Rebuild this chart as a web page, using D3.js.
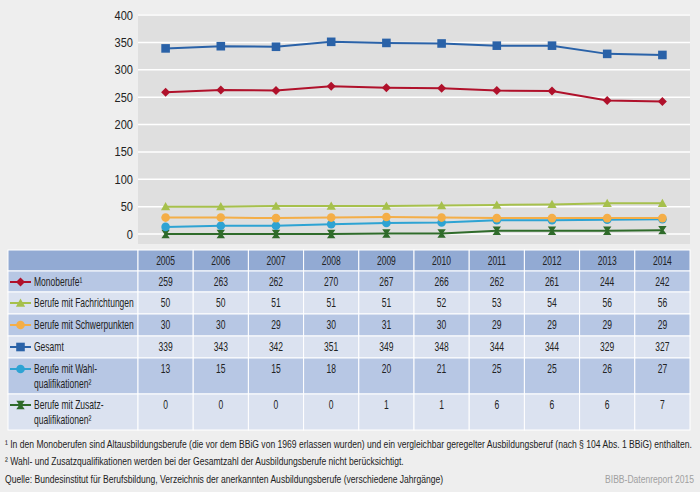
<!DOCTYPE html>
<meta charset="utf-8">
<title>Ausbildungsberufe 2005-2014</title>
<style>
body { margin: 0; background: #eeeeee; }
svg { display: block; font-family: "Liberation Sans", Arial, sans-serif; }
.num { font-size: 12px; fill: #222; }
.foot { font-size: 11.5px; fill: #222; }
</style>
<body>
<script src="https://d3js.org/d3.v7.min.js"></script>
<script>

const width = 700;
const height = 492;

// data
const years = ["2005", "2006", "2007", "2008", "2009", "2010", "2011", "2012", "2013", "2014"];
const seriesNames = ["Monoberufe¹", "Berufe mit Fachrichtungen", "Berufe mit Schwerpunkten", "Gesamt", "Berufe mit Wahl-|qualifikationen²", "Berufe mit Zusatz-|qualifikationen²"];
const mono = [259, 263, 262, 270, 267, 266, 262, 261, 244, 242];
const fach = [50, 50, 51, 51, 51, 52, 53, 54, 56, 56];
const schwer = [30, 30, 29, 30, 31, 30, 29, 29, 29, 29];
const gesamt = [339, 343, 342, 351, 349, 348, 344, 344, 329, 327];
const wahl = [13, 15, 15, 18, 20, 21, 25, 25, 26, 27];
const zusatz = [0, 0, 0, 0, 1, 1, 6, 6, 6, 7];
const yTicks = [0, 50, 100, 150, 200, 250, 300, 350, 400];

const series = [
  { name: seriesNames[0], values: mono, color: "#b0112b", shape: "diamond" },
  { name: seriesNames[1], values: fach, color: "#a6c04c", shape: "triangle" },
  { name: seriesNames[2], values: schwer, color: "#f4ae47", shape: "circle" },
  { name: seriesNames[3], values: gesamt, color: "#2a62a8", shape: "square" },
  { name: seriesNames[4], values: wahl, color: "#2ea3d3", shape: "circle" },
  { name: seriesNames[5], values: zusatz, color: "#2f6b2a", shape: "hourglass" }
];

// drawing order in the chart (bottom first)
const drawOrder = [5, 4, 2, 1, 0, 3];

const svg = d3.select("body").append("svg")
    .attr("width", width)
    .attr("height", height);

// squeeze text horizontally, the original uses a condensed face
const condense = (sel, sx) => sel.each(function() {
  const t = d3.select(this);
  const tx = +t.attr("x") || 0;
  t.attr("transform", "translate(" + tx + ",0) scale(" + sx + ",1) translate(" + (-tx) + ",0)");
});

const plotLeft = 138, plotRight = 690, plotTop = 14, plotBottom = 244;

const x = d3.scaleBand().domain(years).range([plotLeft, plotRight]);
const y = d3.scaleLinear().domain([0, 400]).range([234, 15]);

// plot background
svg.append("rect")
    .attr("x", plotLeft).attr("y", plotTop)
    .attr("width", plotRight - plotLeft).attr("height", plotBottom - plotTop)
    .attr("fill", "#dfdfdf");

svg.append("g").selectAll("line")
    .data(yTicks)
  .enter().append("line")
    .attr("x1", plotLeft).attr("x2", plotRight)
    .attr("y1", d => y(d)).attr("y2", d => y(d))
    .attr("stroke", "#fff").attr("stroke-width", 1.5);

const yAxis = svg.append("g")
    .call(d3.axisLeft(y).tickValues(yTicks).tickSize(0).tickPadding(0));
yAxis.select(".domain").remove();
yAxis.selectAll(".tick").attr("transform", d => "translate(0," + y(d) + ")");
yAxis.selectAll("text")
    .attr("class", "num")
    .attr("font-size", null).attr("font-family", null)
    .style("font-size", "13px")
    .attr("x", plotLeft - 5)
    .attr("dy", "0.35em");
condense(yAxis.selectAll("text"), 0.85);

// marker shapes
const markerPath = (shape, s) => {
  if (shape === "diamond") return "M0," + (-s) + "L" + s + ",0L0," + s + "L" + (-s) + ",0Z";
  if (shape === "triangle") return "M0," + (-s) + "L" + s + "," + (s * 0.8) + "L" + (-s) + "," + (s * 0.8) + "Z";
  if (shape === "square") return "M" + (-s) + "," + (-s) + "h" + (2 * s) + "v" + (2 * s) + "h" + (-2 * s) + "Z";
  if (shape === "hourglass") return "M" + (-s) + "," + (-s) + "H" + s + "L" + (s * 0.3) + ",0L" + s + "," + s + "H" + (-s) + "L" + (-s * 0.3) + ",0Z";
  return d3.symbol().type(d3.symbolCircle).size(Math.PI * s * s)();
};
const markerSize = { diamond: 4.5, triangle: 4.6, square: 4.3, circle: 4.3, hourglass: 4.2 };

const line = d3.line()
    .x((d, i) => x(years[i]) + x.bandwidth() / 2)
    .y(d => y(d));

drawOrder.forEach(k => {
  const s = series[k];
  const g = svg.append("g");
  g.append("path")
      .attr("d", line(s.values))
      .attr("fill", "none")
      .attr("stroke", s.color)
      .attr("stroke-width", 2);
  g.selectAll("path.m")
      .data(s.values)
    .enter().append("path")
      .attr("class", "m")
      .attr("transform", (d, i) => "translate(" + (x(years[i]) + x.bandwidth() / 2) + "," + y(d) + ")")
      .attr("d", markerPath(s.shape, markerSize[s.shape]))
      .attr("fill", s.color);
});

// table
const tableLeft = 8, tableTop = 250;
const rowHeights = [21, 21, 22, 22, 22, 36, 36];
const rowColors = ["#92aad3", "#b7c7e4", "#dbe2f0", "#b7c7e4", "#dbe2f0", "#b7c7e4", "#dbe2f0"];
const rowTops = [];
rowHeights.reduce((acc, h) => { rowTops.push(acc); return acc + h; }, tableTop);

const colEdges = [tableLeft].concat(years.map(yr => x(yr)));

const table = svg.append("g");
rowHeights.forEach((h, r) => {
  colEdges.forEach((cx, c) => {
    const w = c === 0 ? plotLeft - tableLeft : x.bandwidth();
    table.append("rect")
        .attr("x", cx).attr("y", rowTops[r])
        .attr("width", w).attr("height", h)
        .attr("fill", rowColors[r])
        .attr("stroke", "#ffffff").attr("stroke-width", 1);
  });
});

// header years
table.selectAll("text.year")
    .data(years)
  .enter().append("text")
    .attr("class", "num cell")
    .attr("x", d => x(d) + x.bandwidth() / 2)
    .attr("y", rowTops[0] + 11)
    .attr("dy", "0.35em")
    .attr("text-anchor", "middle")
    .text(d => d);

series.forEach((s, k) => {
  const top = rowTops[k + 1];
  const cy = top + 11;
  table.append("line")
      .attr("x1", 10).attr("x2", 31)
      .attr("y1", cy).attr("y2", cy)
      .attr("stroke", s.color).attr("stroke-width", 2);
  table.append("path")
      .attr("transform", "translate(20.5," + cy + ")")
      .attr("d", markerPath(s.shape, markerSize[s.shape]))
      .attr("fill", s.color);
  const parts = s.name.split("|");
  parts.forEach((p, j) => {
    table.append("text")
        .attr("class", "num cell")
        .attr("x", 34)
        .attr("y", cy + j * 15)
        .attr("dy", "0.35em")
        .text(p);
  });
  table.selectAll(null)
      .data(s.values)
    .enter().append("text")
      .attr("class", "num cell")
      .attr("x", (d, i) => x(years[i]) + x.bandwidth() / 2)
      .attr("y", cy)
      .attr("dy", "0.35em")
      .attr("text-anchor", "middle")
      .text(d => d);
});

// the label "Berufe mit Schwerpunkten" is about 100px wide in the original
const probe = table.selectAll("text.cell").filter(function() { return this.textContent === seriesNames[2]; });
const cellScale = 100 / probe.node().getComputedTextLength();
condense(table.selectAll("text.cell"), cellScale);

// footnotes
const notes = [
  "¹ In den Monoberufen sind Altausbildungsberufe (die vor dem BBiG von 1969 erlassen wurden) und ein vergleichbar geregelter Ausbildungsberuf (nach § 104 Abs. 1 BBiG) enthalten.",
  "² Wahl- und Zusatzqualifikationen werden bei der Gesamtzahl der Ausbildungsberufe nicht berücksichtigt.",
  "Quelle: Bundesinstitut für Berufsbildung, Verzeichnis der anerkannten Ausbildungsberufe (verschiedene Jahrgänge)"
];
const noteY = [444, 461, 479];
const foot = svg.selectAll("text.foot")
    .data(notes)
  .enter().append("text")
    .attr("class", "foot")
    .attr("x", 5)
    .attr("y", (d, i) => noteY[i])
    .attr("dy", "0.35em")
    .text(d => d);

const credit = svg.append("text")
    .attr("class", "foot")
    .attr("x", 694)
    .attr("y", 479)
    .attr("dy", "0.35em")
    .attr("text-anchor", "end")
    .style("fill", "#a0a0a0")
    .text("BIBB-Datenreport 2015");

// first footnote runs from x=5 to about x=693
const footScale = 688 / foot.nodes()[0].getComputedTextLength();
condense(foot, footScale);
condense(credit, footScale);

</script>
</body>
